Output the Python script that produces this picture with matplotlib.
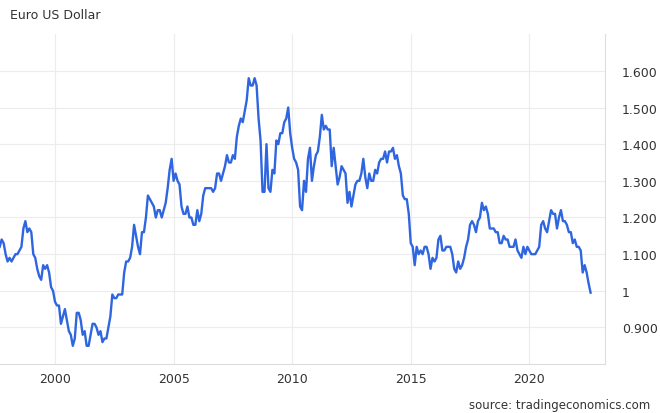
import numpy as np
import matplotlib
matplotlib.use("Agg")
import matplotlib.pyplot as plt
from matplotlib.ticker import FuncFormatter

start_year, start_month = 1997, 9
values = [1.12,1.14,1.13,1.10,
1.08,1.09,1.08,1.09,1.10,1.10,1.11,1.12,1.17,1.19,1.16,1.17,
1.16,1.10,1.09,1.06,1.04,1.03,1.07,1.06,1.07,1.05,1.01,1.00,
0.97,0.96,0.96,0.91,0.93,0.95,0.92,0.89,0.88,0.85,0.87,0.94,
0.94,0.92,0.88,0.89,0.85,0.85,0.88,0.91,0.91,0.90,0.88,0.89,
0.86,0.87,0.87,0.90,0.93,0.99,0.98,0.98,0.99,0.99,0.99,1.05,
1.08,1.08,1.09,1.12,1.18,1.15,1.12,1.10,1.16,1.16,1.20,1.26,
1.25,1.24,1.23,1.20,1.22,1.22,1.20,1.22,1.24,1.28,1.33,1.36,
1.30,1.32,1.30,1.29,1.23,1.21,1.21,1.23,1.20,1.20,1.18,1.18,
1.22,1.19,1.21,1.26,1.28,1.28,1.28,1.28,1.27,1.28,1.32,1.32,
1.30,1.32,1.34,1.37,1.35,1.35,1.37,1.36,1.42,1.45,1.47,1.46,
1.49,1.52,1.58,1.56,1.56,1.58,1.56,1.47,1.41,1.27,1.27,1.40,
1.28,1.27,1.33,1.32,1.41,1.40,1.43,1.43,1.46,1.47,1.50,1.43,
1.39,1.36,1.35,1.33,1.23,1.22,1.30,1.27,1.36,1.39,1.30,1.34,
1.37,1.38,1.42,1.48,1.44,1.45,1.44,1.44,1.34,1.39,1.34,1.29,
1.31,1.34,1.33,1.32,1.24,1.27,1.23,1.26,1.29,1.30,1.30,1.32,
1.36,1.31,1.28,1.32,1.30,1.30,1.33,1.32,1.35,1.36,1.36,1.38,
1.35,1.38,1.38,1.39,1.36,1.37,1.34,1.32,1.26,1.25,1.25,1.21,
1.13,1.12,1.07,1.12,1.10,1.11,1.10,1.12,1.12,1.10,1.06,1.09,
1.08,1.09,1.14,1.15,1.11,1.11,1.12,1.12,1.12,1.10,1.06,1.05,
1.08,1.06,1.07,1.09,1.12,1.14,1.18,1.19,1.18,1.16,1.19,1.20,
1.24,1.22,1.23,1.21,1.17,1.17,1.17,1.16,1.16,1.13,1.13,1.15,
1.14,1.14,1.12,1.12,1.12,1.14,1.11,1.10,1.09,1.12,1.10,1.12,
1.11,1.10,1.10,1.10,1.11,1.12,1.18,1.19,1.17,1.16,1.19,1.22,
1.21,1.21,1.17,1.20,1.22,1.19,1.19,1.18,1.16,1.16,1.13,1.14,
1.12,1.12,1.11,1.05,1.07,1.05,1.02,0.995]
years = [start_year + (start_month - 1 + i) / 12 for i in range(len(values))]
xticks = [2000, 2005, 2010, 2015, 2020]
yticks = [0.9, 1.0, 1.1, 1.2, 1.3, 1.4, 1.5, 1.6]

fig = plt.figure(figsize=(6.6, 4.14), dpi=100)
ax = fig.add_axes([0.0, 0.118, 0.917, 0.797])
ax.plot(years, values, color="#2f66e0", lw=1.7)
ax.set_xlim(1997.68, 2023.2)
ax.set_ylim(0.80, 1.70)
ax.set_xticks(xticks)
ax.set_yticks(yticks)
ax.yaxis.tick_right()
ax.yaxis.set_major_formatter(FuncFormatter(lambda v, p: "1" if abs(v-1) < 1e-9 else f"{v:.3f}"))
ax.grid(True, color="#ececec", lw=0.8)
for s in ["top", "left"]:
    ax.spines[s].set_visible(False)
ax.spines["right"].set_color("#dddddd")
ax.spines["bottom"].set_color("#dddddd")
ax.tick_params(length=0, labelsize=9, colors="#333333", pad=12)
ax.tick_params(axis="x", pad=6)
fig.text(0.015, 0.955, "Euro US Dollar", fontsize=9, color="#333333")
fig.text(0.985, 0.012, "source: tradingeconomics.com", fontsize=8.5, color="#333333", ha="right")
fig.savefig("out.png", dpi=100)
